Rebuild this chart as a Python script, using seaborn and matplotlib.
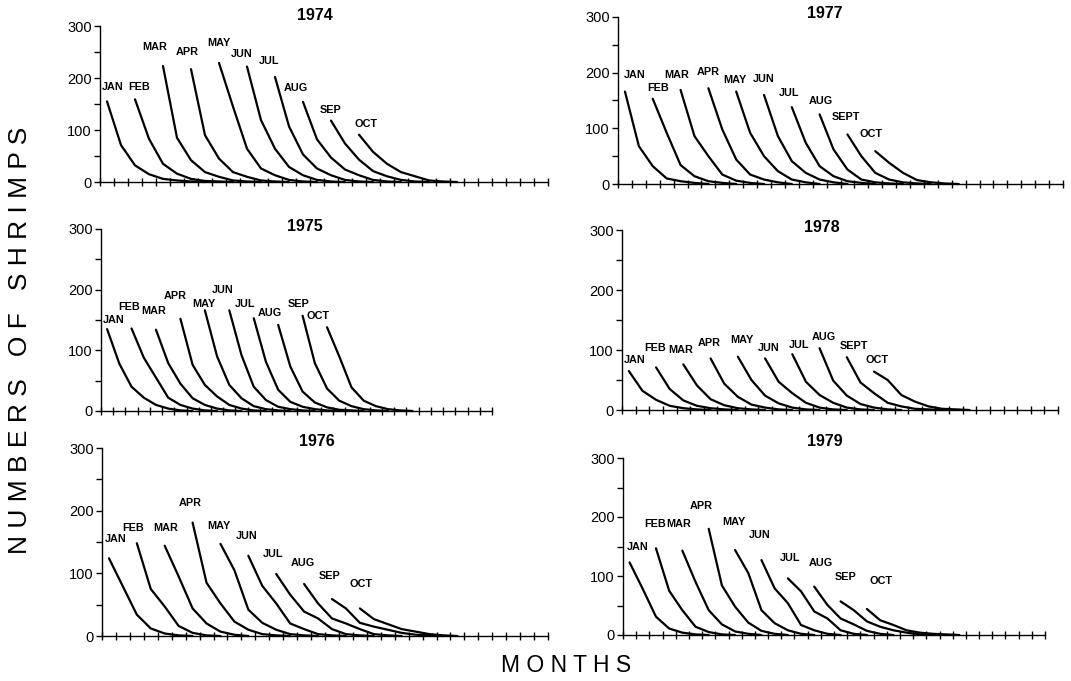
import numpy as np
import pandas as pd
import matplotlib
matplotlib.use("Agg")
import matplotlib.pyplot as plt
import seaborn as sns
from matplotlib.ticker import MultipleLocator

sns.set_style("white")
plt.rcParams["font.family"] = ["Liberation Sans", "DejaVu Sans"]
plt.rcParams["text.color"] = "black"
plt.rcParams["ytick.color"] = "black"
plt.rcParams["xtick.color"] = "black"

# ---------------- data ----------------
years = ["1974", "1977", "1975", "1978", "1976", "1979"]

months_sep = ["JAN", "FEB", "MAR", "APR", "MAY", "JUN", "JUL", "AUG", "SEP", "OCT"]
months_sept = ["JAN", "FEB", "MAR", "APR", "MAY", "JUN", "JUL", "AUG", "SEPT", "OCT"]

n_categories = 32  # half-month steps along x

# each curve starts at category 2*k (k = month index) and decays
y1974 = [
    [155, 71, 32, 15, 6, 3, 1, 0],
    [159, 83, 35, 16, 6, 2, 1, 0],
    [223, 85, 42, 19, 10, 3, 1, 0],
    [217, 90, 45, 19, 10, 3, 1, 0],
    [229, 145, 64, 26, 13, 4, 1, 0],
    [222, 119, 64, 29, 13, 4, 1, 0],
    [202, 107, 53, 26, 13, 4, 1, 0],
    [154, 82, 47, 24, 13, 4, 1, 0],
    [118, 74, 43, 21, 11, 4, 1, 0],
    [91, 58, 35, 19, 11, 3, 1, 0],
]
y1977 = [
    [166, 68, 32, 10, 5, 2, 0],
    [153, 92, 34, 14, 5, 2, 0],
    [169, 86, 50, 17, 6, 2, 0],
    [172, 98, 44, 17, 8, 3, 0],
    [166, 92, 50, 23, 8, 3, 0],
    [160, 86, 41, 20, 8, 3, 0],
    [138, 74, 32, 14, 5, 2, 0],
    [125, 62, 26, 8, 3, 1, 0],
    [89, 50, 20, 8, 3, 1, 0],
    [59, 38, 20, 7, 3, 1, 0],
]
y1975 = [
    [135, 78, 40, 22, 10, 4, 1, 0],
    [136, 88, 55, 22, 10, 4, 1, 0],
    [134, 79, 45, 21, 10, 4, 1, 0],
    [152, 76, 43, 24, 10, 4, 1, 0],
    [166, 90, 43, 21, 8, 3, 1, 0],
    [166, 92, 40, 18, 7, 3, 1, 0],
    [153, 81, 35, 15, 7, 3, 1, 0],
    [142, 73, 32, 14, 6, 2, 1, 0],
    [157, 79, 37, 17, 8, 3, 1, 0],
    [138, 90, 39, 17, 8, 3, 1, 0],
]
y1978 = [
    [65, 32, 17, 7, 3, 1, 0],
    [71, 35, 16, 7, 3, 1, 0],
    [76, 41, 18, 8, 3, 1, 0],
    [86, 44, 22, 9, 4, 1, 0],
    [89, 50, 24, 11, 4, 1, 0],
    [86, 47, 28, 12, 4, 1, 0],
    [93, 47, 25, 12, 4, 1, 0],
    [103, 49, 24, 10, 4, 1, 0],
    [88, 46, 28, 12, 6, 2, 1, 0],
    [64, 50, 25, 14, 6, 2, 1, 0],
]
y1976 = [
    [124, 79, 34, 12, 4, 1, 0],
    [148, 75, 47, 16, 5, 1, 0],
    [144, 95, 44, 20, 7, 2, 0],
    [181, 85, 52, 23, 10, 3, 1, 0],
    [147, 105, 42, 21, 10, 3, 1, 0],
    [128, 80, 52, 20, 11, 3, 1, 0],
    [99, 66, 39, 28, 11, 3, 1, 0],
    [83, 52, 28, 20, 11, 3, 1, 0],
    [59, 44, 21, 15, 10, 5, 2, 1, 0],
    [44, 27, 19, 11, 7, 3, 1, 0],
]
y1979 = [
    [123, 78, 31, 11, 4, 1, 0],
    [147, 75, 42, 14, 5, 1, 0],
    [143, 90, 42, 18, 6, 2, 0],
    [180, 84, 48, 21, 7, 2, 0],
    [144, 105, 42, 20, 8, 2, 0],
    [127, 79, 54, 17, 8, 2, 0],
    [96, 74, 40, 28, 8, 2, 0],
    [82, 51, 28, 18, 7, 2, 0],
    [57, 42, 23, 14, 8, 4, 1, 0],
    [44, 25, 17, 8, 4, 2, 1, 0],
]

# month-label anchor points (x in category units, value)
labels1974 = [(0.9, 182), (2.8, 182), (3.9, 260), (6.2, 250), (8.5, 268),
              (10.1, 246), (12.1, 233), (14.0, 180), (16.5, 139), (19.0, 112)]
labels1977 = [(1.2, 195), (2.9, 172), (4.2, 195), (6.5, 202), (8.4, 187),
              (10.5, 189), (12.3, 163), (14.6, 149), (16.4, 120), (18.2, 89)]
labels1975 = [(1.0, 150), (2.3, 172), (4.3, 165), (6.1, 190), (8.4, 177),
              (10.0, 200), (11.8, 176), (13.8, 161), (16.2, 177), (17.8, 156)]
labels1978 = [(0.9, 84), (2.4, 103), (4.3, 100), (6.4, 112), (8.8, 117),
              (10.8, 103), (13.0, 108), (14.8, 121), (17.0, 106), (18.7, 84)]
labels1976 = [(1.0, 155), (2.2, 173), (4.6, 173), (6.3, 213), (8.4, 176),
              (10.4, 159), (12.3, 131), (14.4, 116), (16.3, 96), (18.6, 83)]
labels1979 = [(1.1, 149), (2.4, 188), (4.2, 188), (5.9, 219), (8.4, 192),
              (10.4, 170), (12.7, 130), (15.0, 122), (16.9, 99), (19.6, 91)]

series = {"1974": y1974, "1977": y1977, "1975": y1975,
          "1978": y1978, "1976": y1976, "1979": y1979}
month_names = {"1974": months_sep, "1977": months_sept, "1975": months_sep,
               "1978": months_sept, "1976": months_sep, "1979": months_sep}
labels = {"1974": labels1974, "1977": labels1977, "1975": labels1975,
          "1978": labels1978, "1976": labels1976, "1979": labels1979}

# ---------------- layout (pixels: left, top, right, bottom) ----------------
W, H = 1071, 681
boxes = {"1974": (100, 26, 548, 182), "1977": (618, 17, 1063, 184),
         "1975": (101, 229, 492, 411), "1978": (622, 230, 1058, 410),
         "1976": (102, 448, 548, 636), "1979": (623, 458, 1045, 635)}
title_pos = {"1974": (315, 15), "1977": (825, 13), "1975": (305, 227),
             "1978": (822, 228), "1976": (317, 442), "1979": (825, 442)}

fig = plt.figure(figsize=(W / 100, H / 100), dpi=100)
fig.patch.set_facecolor("white")

for yr in years:
    l, t, r, b = boxes[yr]
    ax = fig.add_axes([l / W, 1 - b / H, (r - l) / W, (b - t) / H])
    rows = []
    for k, (m, vals) in enumerate(zip(month_names[yr], series[yr])):
        for j, v in enumerate(vals):
            rows.append({"month": m, "x": 2 * k + j + 0.5, "y": v})
    df = pd.DataFrame(rows)
    sns.lineplot(data=df, x="x", y="y", hue="month",
                 palette={m: "black" for m in month_names[yr]},
                 estimator=None, sort=False, legend=False,
                 linewidth=1.6, ax=ax)
    for line in ax.lines:
        line.set_clip_on(False)
    for m, (lx, ly) in zip(month_names[yr], labels[yr]):
        ax.text(lx, ly, m, ha="center", va="center", fontsize=7.8,
                fontweight="bold", color="black")

    ax.set_xlim(0, n_categories)
    ax.set_ylim(0, 300)
    ax.set_xlabel("")
    ax.set_ylabel("")
    ax.set_facecolor("white")
    ax.xaxis.set_major_locator(MultipleLocator(1))
    ax.yaxis.set_major_locator(MultipleLocator(100))
    ax.yaxis.set_minor_locator(MultipleLocator(50))
    ax.tick_params(axis="x", which="major", direction="inout", length=6,
                   width=1, color="black", labelbottom=False, bottom=True)
    ax.tick_params(axis="y", which="both", direction="out", length=4,
                   width=1, color="black", left=True, pad=2,
                   labelsize=10.5, labelcolor="black")
    for s in ["top", "right"]:
        ax.spines[s].set_visible(False)
    for s in ["left", "bottom"]:
        ax.spines[s].set_color("black")
        ax.spines[s].set_linewidth(1)
    ax.grid(False)

    tx, ty = title_pos[yr]
    fig.text(tx / W, 1 - ty / H, yr, ha="center", va="center",
             fontsize=11.5, fontweight="bold", color="black")

fig.text(20 / W, 1 - 340 / H, "N U M B E R S   O F   S H R I M P S",
         rotation=90, ha="center", va="center", fontsize=19, color="black")
fig.text(566 / W, 1 - 665 / H, "M O N T H S", ha="center", va="center",
         fontsize=16.5, color="black")

fig.savefig("out.png", dpi=100, facecolor="white")
